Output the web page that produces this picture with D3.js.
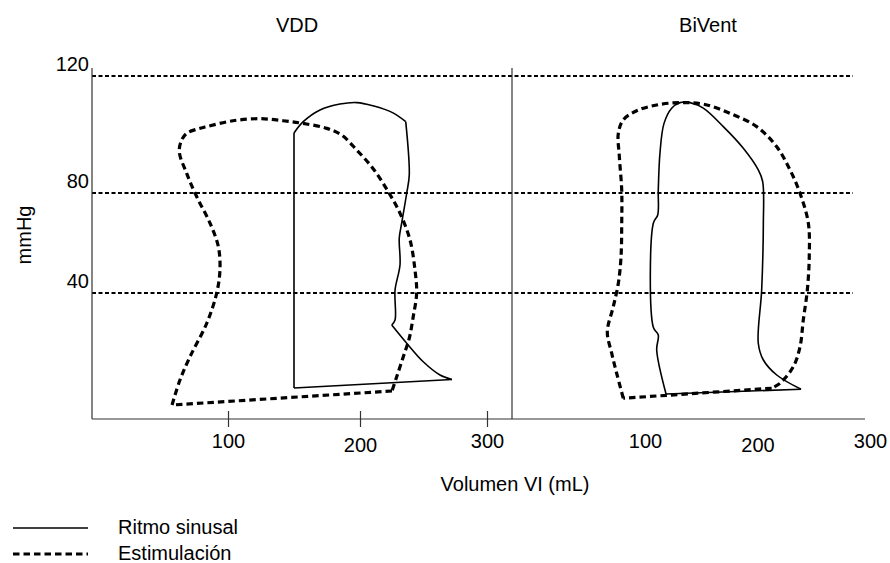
<!DOCTYPE html>
<html>
<head>
<meta charset="utf-8">
<script src="https://cdn.jsdelivr.net/npm/d3@7"></script>
<style>
  body { margin: 0; background: #fff; }
  svg { display: block; font-family: "Liberation Sans", Arial, sans-serif; }
  text { fill: #000; font-size: 20px; }
  .frame { stroke: #333; stroke-width: 1.2; }
  .grid { stroke: #000; stroke-width: 1.8; stroke-dasharray: 4, 2.5; }
  .sinusal { fill: none; stroke: #000; stroke-width: 1.6; }
  .estim { fill: none; stroke: #000; stroke-width: 3.2; stroke-dasharray: 6.5, 4; }
</style>
</head>
<body>
<svg width="890" height="563"></svg>
<script>
/* ----------------------------------------------------------
data
---------------------------------------------------------- */

var panels = ["VDD", "BiVent"];
var xTicks = [100, 200, 300];
var yTicks = [40, 80, 120];
var legendLabels = ["Ritmo sinusal", "Estimulación"];

// [volumen mL, presión mmHg], cada lazo en trazos
var vddSinusal = [
  [[150, 2], [150, 100.5]],
  [[150, 100.5], [156.8, 104.3], [169.7, 108.4], [184.8, 110.4], [197.7, 110.9], [210.2, 109.8], [226, 107.4], [236, 104.4]],
  [[236, 104.4], [238.8, 86.2], [236.8, 80], [232.8, 67.9], [230.9, 61.9], [231.5, 51.2], [227.6, 41.2], [227.6, 29.2], [225, 27.2]],
  [[225, 27.2], [236.8, 19.9], [249.8, 12.5], [263, 7.2], [272.4, 5.4]],
  [[272.4, 5.4], [150, 2]]
];
var vddEstim = [
  [[57.6, -4.8], [63.6, 5.2], [71.2, 14.5], [83.9, 27.9], [91.4, 39.9], [93.9, 49.2], [92.7, 58.5], [86.4, 67.9],
   [76.3, 78.5], [68.7, 86.7], [63.1, 94.1], [64.9, 98.1], [68.7, 100.4], [76.3, 101.8], [83.9, 102.7], [103.8, 104.7],
   [124.2, 105.4], [141.7, 104.7], [156.8, 103.8], [174.8, 102.1], [186.1, 99.8], [197.5, 94.7], [210.2, 88.4],
   [222.3, 80.4], [231.5, 71.9], [239.4, 61.2], [243.3, 49.2], [244.6, 39.9], [241.9, 30.5], [238.8, 21.9],
   [234.1, 14.5], [228.9, 6.5], [225.2, 0.8]],
  [[225.2, 0.8], [57.6, -4.8]]
];
var biSinusal = [
  [[118.7, -0.4], [110.4, 17.2], [111.8, 23.2], [107.4, 26.3], [107.4, 67.9], [111.3, 71.2], [111.8, 81], [113.3, 93.6],
   [116.9, 103.8], [123.7, 109], [131.1, 110.9], [140, 110.9], [151.8, 109], [169.6, 102.7], [187.4, 95.3],
   [200.7, 87.9], [204.6, 83.9], [205.2, 67.9], [203.7, 41.2], [200.7, 19.9], [205.2, 13.2], [217.1, 7.2], [238.7, 1.5]],
  [[238.7, 1.5], [118.7, -0.4]]
];
var biEstim = [
  [[80.7, -2.1], [74.8, 7.9], [70.4, 15.9], [66.5, 24.5], [71.8, 34.5], [76.3, 43.9], [78.7, 54.5], [79.3, 67.9],
   [79.3, 81], [77.2, 92.4], [76.3, 100.4], [80.7, 105], [92.6, 108.1], [110.4, 110.1], [131.1, 110.9], [151.8, 110.4],
   [175.6, 107.2], [199.3, 102.7], [217.1, 95.8], [228.9, 87.9], [237.8, 79.9], [245.2, 67.9], [246, 54.5],
   [244.3, 41.2], [240.7, 29.2], [237.8, 18.5], [231.8, 10.5], [220, 3.9], [212.6, 1.9]],
  [[212.6, 1.9], [80.7, -2.1]]
];

/* ----------------------------------------------------------
prepare
---------------------------------------------------------- */

var svg = d3.select("svg");
var box = { left: 92, right: 865, top: 68, bottom: 419, mid: 512, gridEnd: 853 };

var y = d3.scaleLinear().domain([40, 80, 120]).range([293, 193, 76]);
var xs = [
  d3.scaleLinear().domain([100, 200, 300]).range([228, 360, 487]),
  d3.scaleLinear().domain([100, 300]).range([645, 870])
];
var loops = [[vddSinusal, vddEstim], [biSinusal, biEstim]];

// rejilla punteada
svg.append("g").selectAll("line")
  .data(yTicks).enter().append("line")
  .attr("class", "grid")
  .attr("x1", box.left).attr("x2", box.gridEnd)
  .attr("y1", d => y(d)).attr("y2", d => y(d));

// marco
svg.append("line").attr("class", "frame")
  .attr("x1", box.left).attr("x2", box.left).attr("y1", box.top).attr("y2", box.bottom);
svg.append("line").attr("class", "frame")
  .attr("x1", box.mid).attr("x2", box.mid).attr("y1", box.top).attr("y2", box.bottom);
svg.append("line").attr("class", "frame")
  .attr("x1", box.left).attr("x2", box.right).attr("y1", box.bottom).attr("y2", box.bottom);

// eje y
var yAxis = svg.append("g")
  .attr("transform", "translate(" + box.left + ",0)")
  .call(d3.axisLeft(y).tickValues(yTicks).tickSize(0).tickPadding(3));
yAxis.select(".domain").remove();
yAxis.selectAll("text")
  .attr("dy", 0).attr("y", -6)
  .style("font-size", "20px").style("font-family", "Liberation Sans, Arial, sans-serif");

// ejes x
xs.forEach(function (x, i) {
  var ax = svg.append("g")
    .attr("transform", "translate(0," + box.bottom + ")")
    .call(d3.axisBottom(x).tickValues(xTicks).tickSize(8));
  ax.select(".domain").remove();
  ax.selectAll(".tick line")
    .attr("y1", -8).attr("y2", 8)
    .attr("stroke", "#333").attr("stroke-width", 1.2)
    .style("display", i == 0 ? null : "none");
  ax.selectAll("text")
    .attr("dy", 0)
    .attr("y", d => d == 200 ? 33 : 29)
    .style("font-size", "20px").style("font-family", "Liberation Sans, Arial, sans-serif");
});

// lazos presión-volumen
var line = function (x) {
  return d3.line()
    .x(d => x(d[0]))
    .y(d => y(d[1]))
    .curve(d3.curveCatmullRom.alpha(0.5));
};
loops.forEach(function (pair, i) {
  var path = line(xs[i]);
  var g = svg.append("g");
  g.selectAll(".sinusal").data(pair[0]).enter().append("path")
    .attr("class", "sinusal").attr("d", path);
  g.selectAll(".estim").data(pair[1]).enter().append("path")
    .attr("class", "estim").attr("d", path);
});

// textos
var titleX = [297, 708];
svg.selectAll(".t_title").data(panels).enter().append("text")
  .attr("class", "t_title")
  .attr("x", (d, i) => titleX[i]).attr("y", 32)
  .attr("text-anchor", "middle")
  .text(d => d);

svg.append("text")
  .attr("x", 515).attr("y", 491)
  .attr("text-anchor", "middle")
  .text("Volumen VI (mL)");

svg.append("text")
  .attr("transform", "translate(31,235) rotate(-90)")
  .attr("text-anchor", "middle")
  .text("mmHg");

// leyenda
var legs = svg.append("g").selectAll("g")
  .data(legendLabels).enter().append("g")
  .attr("transform", (d, i) => "translate(0," + (528 + i * 26) + ")");
legs.append("line")
  .attr("class", (d, i) => i == 0 ? "sinusal" : "estim")
  .attr("x1", 13).attr("x2", 88).attr("y1", 0).attr("y2", 0);
legs.append("text")
  .attr("x", 118).attr("y", 6)
  .text(d => d);
</script>
</body>
</html>
